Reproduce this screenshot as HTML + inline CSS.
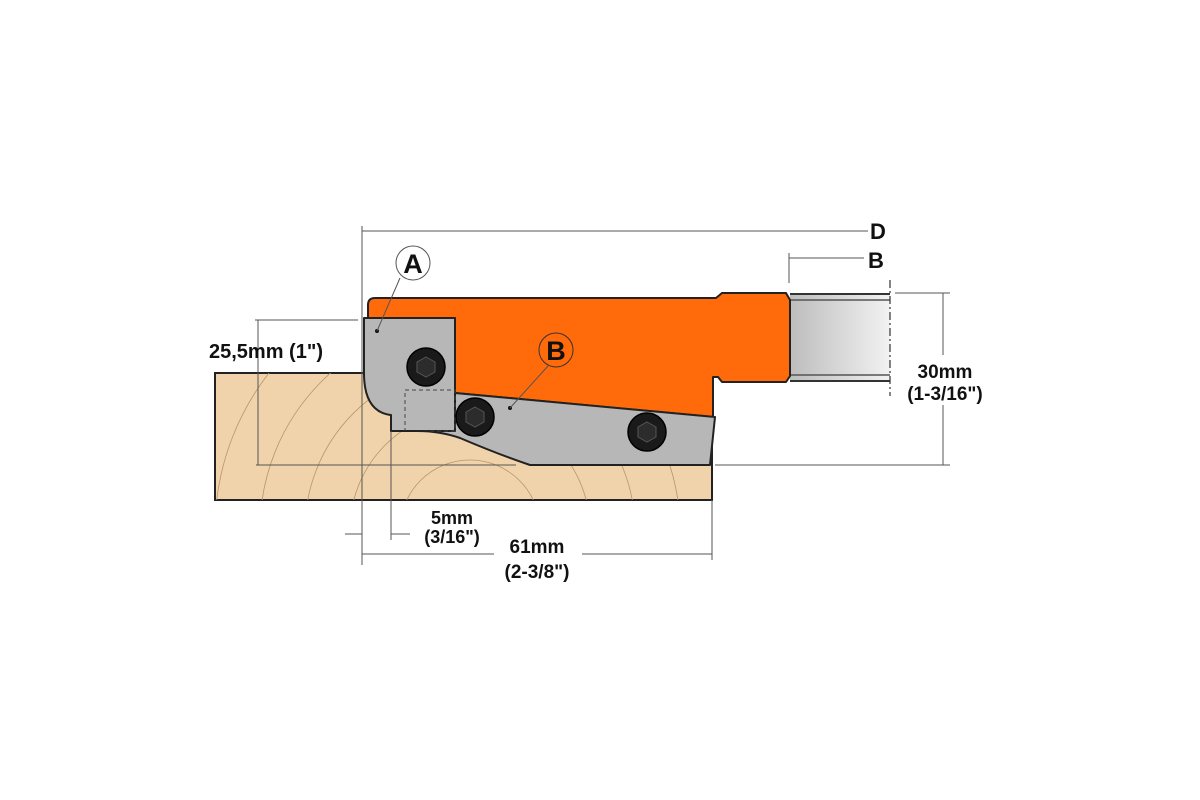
<!DOCTYPE html>
<html><head><meta charset="utf-8"><style>
html,body{margin:0;padding:0;background:#fff;width:1200px;height:800px;overflow:hidden;}
svg{display:block;}
text{font-family:"Liberation Sans",sans-serif;font-weight:bold;fill:#111;}
</style></head><body>
<svg width="1200" height="800" viewBox="0 0 1200 800" xmlns="http://www.w3.org/2000/svg">
<defs>
<linearGradient id="sh" x1="0" x2="1" y1="0" y2="0">
<stop offset="0" stop-color="#bdbdbd"/><stop offset="1" stop-color="#f2f2f2"/>
</linearGradient>
<clipPath id="wc"><rect x="215" y="373" width="497" height="127"/></clipPath>
</defs>
<rect x="215" y="373" width="497" height="127" fill="#f0d3ab" stroke="#222" stroke-width="2"/>
<g clip-path="url(#wc)" fill="none" stroke="#b89468" stroke-width="0.8">
<circle cx="470" cy="530" r="70"/>
<circle cx="470" cy="530" r="120"/>
<circle cx="470" cy="530" r="165"/>
<circle cx="470" cy="530" r="210"/>
<circle cx="470" cy="530" r="255"/>
<circle cx="470" cy="530" r="300"/>
<circle cx="470" cy="530" r="345"/>
</g>
<rect x="790" y="293" width="100" height="89" fill="url(#sh)"/>
<line x1="790" y1="294" x2="890" y2="294" stroke="#333" stroke-width="2"/>
<line x1="790" y1="300" x2="890" y2="300" stroke="#555" stroke-width="1.5"/>
<line x1="790" y1="375" x2="890" y2="375" stroke="#555" stroke-width="1.5"/>
<line x1="790" y1="381" x2="890" y2="381" stroke="#333" stroke-width="2"/>
<line x1="890" y1="280" x2="890" y2="396" stroke="#333" stroke-width="1.2" stroke-dasharray="8,3,2,3"/>
<path d="M368,305 Q368,298 375,298 L716,298 L722,293 L786,293 L790,300 L790,376 L786,382 L722,382 L718,377 L713,377 L713,417 L455,393 L455,318 L368,318 Z" fill="#ff6a0a" stroke="#222" stroke-width="2" stroke-linejoin="round"/>
<path d="M455,393 L715,417 L710,465 L530,465 Q500,455 460,438 Q440,431 417,431 L391,431 L391,400 Z" fill="#b7b7b7" stroke="#222" stroke-width="2" stroke-linejoin="round"/>
<path d="M364,318 L455,318 L455,431 L391,431 L391,415 Q364,412 364,373 Z" fill="#b7b7b7" stroke="#222" stroke-width="2" stroke-linejoin="round"/>
<rect x="405" y="390" width="50" height="41" fill="none" stroke="#444" stroke-width="1" stroke-dasharray="4,3"/>
<g fill="#1a1a1a" stroke="#000" stroke-width="1.5">
<circle cx="426" cy="367" r="19"/><circle cx="475" cy="417" r="19"/><circle cx="647" cy="432" r="19"/>
</g>
<g fill="#2c2c2c" stroke="#555" stroke-width="1">
<polygon points="426,357 435,362 435,372 426,377 417,372 417,362"/>
<polygon points="475,407 484,412 484,422 475,427 466,422 466,412"/>
<polygon points="647,422 656,427 656,437 647,442 638,437 638,427"/>
</g>
<circle cx="377" cy="331" r="2" fill="#111"/>
<circle cx="510" cy="408" r="2" fill="#111"/>
<g stroke="#555" stroke-width="1" fill="none">
<line x1="362" y1="226" x2="362" y2="565"/>
<line x1="362" y1="231" x2="868" y2="231"/>
<line x1="789" y1="253" x2="789" y2="283"/>
<line x1="789" y1="258" x2="864" y2="258"/>
<line x1="255" y1="320" x2="358" y2="320"/>
<line x1="258" y1="320" x2="258" y2="465"/>
<line x1="256" y1="465" x2="516" y2="465"/>
<line x1="715" y1="465" x2="950" y2="465"/>
<line x1="895" y1="293" x2="950" y2="293"/>
<line x1="943" y1="293" x2="943" y2="355"/>
<line x1="943" y1="405" x2="943" y2="465"/>
<line x1="391" y1="431" x2="391" y2="540"/>
<line x1="712" y1="500" x2="712" y2="560"/>
<line x1="345" y1="534" x2="362" y2="534"/>
<line x1="391" y1="534" x2="410" y2="534"/>
<line x1="362" y1="554" x2="494" y2="554"/>
<line x1="582" y1="554" x2="712" y2="554"/>
<line x1="400" y1="278" x2="377" y2="331"/>
<line x1="548" y1="366" x2="510" y2="408"/>
</g>
<path d="M364,373 Q364,412 391,415 L391,431 L417,431 Q440,431 460,438 Q500,455 530,465" fill="none" stroke="#222" stroke-width="1"/>
<circle cx="413" cy="263" r="17" fill="#fff" stroke="#555" stroke-width="1"/>
<text x="413" y="273" font-size="27" text-anchor="middle">A</text>
<circle cx="556" cy="350" r="17" fill="none" stroke="#333" stroke-width="1"/>
<text x="556" y="360" font-size="27" text-anchor="middle">B</text>
<text x="870" y="239" font-size="22">D</text>
<text x="868" y="268" font-size="22">B</text>
<text x="266" y="358" font-size="20" text-anchor="middle">25,5mm (1")</text>
<text x="945" y="378" font-size="19" text-anchor="middle">30mm</text>
<text x="945" y="400" font-size="19" text-anchor="middle">(1-3/16")</text>
<text x="452" y="524" font-size="18" text-anchor="middle">5mm</text>
<text x="452" y="543" font-size="18" text-anchor="middle">(3/16")</text>
<text x="537" y="553" font-size="19" text-anchor="middle">61mm</text>
<text x="537" y="578" font-size="19" text-anchor="middle">(2-3/8")</text>
</svg>
</body></html>
